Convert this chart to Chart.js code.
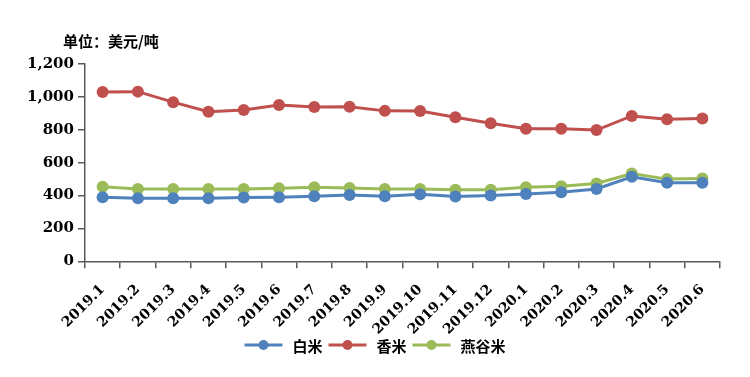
<!DOCTYPE html>
<html>
<head>
<meta charset="utf-8">
<script src="https://cdn.jsdelivr.net/npm/chart.js@4"></script>
<style>
    html, body { margin: 0; padding: 0; background: #fff; }
    #wrap { width: 750px; height: 377px; }
</style>
</head>
<body>
<div id="wrap"><canvas id="riceChart" width="750" height="377"></canvas></div>
<script>
const months = ['2019.1', '2019.2', '2019.3', '2019.4', '2019.5', '2019.6', '2019.7', '2019.8', '2019.9',
    '2019.10', '2019.11', '2019.12', '2020.1', '2020.2', '2020.3', '2020.4', '2020.5', '2020.6'];
const baimi = [390, 384, 384, 384, 388, 390, 396, 404, 396, 408, 394, 400, 410, 420, 440, 514, 478, 478];
const xiangmi = [1030, 1032, 968, 910, 920, 950, 938, 940, 915, 914, 876, 840, 806, 806, 798, 884, 864, 868];
const yangumi = [454, 440, 440, 440, 440, 444, 450, 446, 440, 440, 436, 436, 450, 456, 474, 534, 500, 504];
const unitText = '单位：美元/吨';

const axisColor = '#595959';
const tickFont = { family: 'DejaVu Serif', weight: 'bold', size: 15 };
const cjkFont = '"Noto Sans CJK SC", sans-serif';

// legend with line + dot and the unit text, drawn by hand
const extraDraw = {
    id: 'extraDraw',
    afterDraw(chart) {
        const ctx = chart.ctx;
        ctx.save();
        ctx.fillStyle = '#000';
        ctx.font = 'bold 15px ' + cjkFont;
        ctx.textBaseline = 'middle';
        ctx.textAlign = 'left';
        ctx.fillText(unitText, 63, 41);

        const lineLen = 38, gapText = 10, gapItem = 6, y = 345;
        const items = chart.data.datasets.map(ds => ({
            label: ds.label,
            color: ds.borderColor,
            w: lineLen + gapText + ctx.measureText(ds.label).width
        }));
        const total = items.reduce((s, it) => s + it.w, 0) + gapItem * (items.length - 1);
        let x = 375 - total / 2;
        items.forEach(it => {
            ctx.strokeStyle = it.color;
            ctx.lineWidth = 3;
            ctx.beginPath();
            ctx.moveTo(x, y);
            ctx.lineTo(x + lineLen, y);
            ctx.stroke();
            ctx.fillStyle = it.color;
            ctx.beginPath();
            ctx.arc(x + lineLen / 2, y, 5, 0, Math.PI * 2);
            ctx.fill();
            ctx.fillStyle = '#000';
            ctx.fillText(it.label, x + lineLen + gapText, y + 1);
            x += it.w + gapItem;
        });
        ctx.restore();
    }
};

function makeSet(label, data, color) {
    return {
        label: label,
        data: data,
        borderColor: color,
        backgroundColor: color,
        pointBackgroundColor: color,
        pointBorderColor: color,
        borderWidth: 3,
        pointRadius: 6,
        pointBorderWidth: 0,
        tension: 0,
        fill: false
    };
}

const ctx = document.getElementById('riceChart').getContext('2d');
new Chart(ctx, {
    type: 'line',
    data: {
        labels: months,
        datasets: [
            makeSet('白米', baimi, '#4F81BD'),
            makeSet('香米', xiangmi, '#C0504D'),
            makeSet('燕谷米', yangumi, '#9BBB59')
        ]
    },
    options: {
        responsive: false,
        animation: false,
        layout: {
            padding: { left: 23, right: 30, top: 64, bottom: 26 }
        },
        plugins: {
            legend: { display: false },
            tooltip: { enabled: false }
        },
        scales: {
            x: {
                offset: true,
                grid: {
                    display: true,
                    drawOnChartArea: false,
                    offset: true,
                    tickLength: 7,
                    color: axisColor,
                    lineWidth: 1.5
                },
                border: { color: axisColor, width: 1.5 },
                ticks: {
                    color: '#000',
                    font: { family: 'DejaVu Serif', weight: 'bold', size: 14 },
                    maxRotation: 45,
                    minRotation: 45,
                    padding: 13,
                    autoSkip: false
                }
            },
            y: {
                min: 0,
                max: 1200,
                grid: {
                    display: true,
                    drawOnChartArea: false,
                    tickLength: 7,
                    color: axisColor,
                    lineWidth: 1.5
                },
                border: { color: axisColor, width: 1.5 },
                ticks: {
                    stepSize: 200,
                    color: '#000',
                    font: tickFont,
                    padding: 4,
                    callback: function (value) {
                        return value.toLocaleString('en-US');
                    }
                }
            }
        }
    },
    plugins: [extraDraw]
});
</script>
</body>
</html>
